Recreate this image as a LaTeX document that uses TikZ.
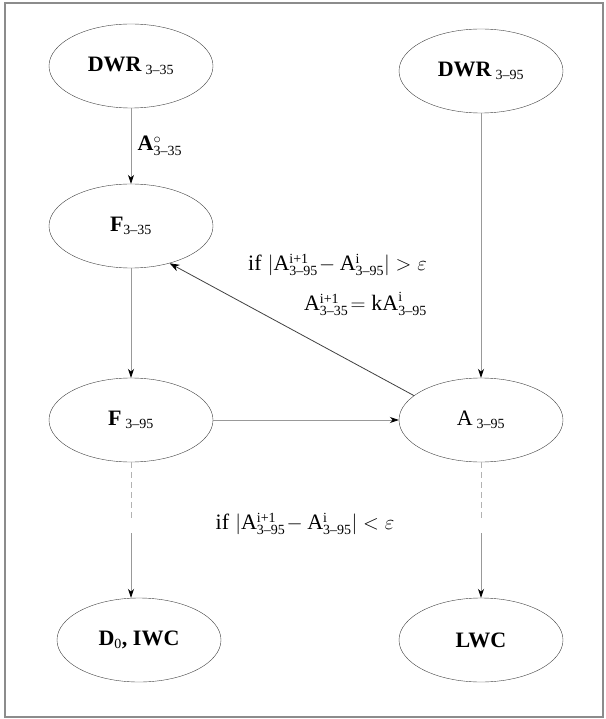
\documentclass[tikz,border=0pt]{standalone}
\usepackage{amsmath}
\usepackage{fontspec}
\setmainfont{Liberation Serif}
\DeclareMathSizes{22}{22}{14}{10}
\usepackage{tikz}
\usetikzlibrary{shapes.geometric, arrows.meta}
\usetikzlibrary{calc}
\tikzstyle{oval} = [ellipse, minimum width=164pt, minimum height=84pt, inner sep=0pt, text centered, draw=black!75, font=\fontsize{22}{26}\selectfont]
\tikzstyle{cond} = [font=\fontsize{22}{40}\selectfont, inner sep=0pt]
\tikzstyle{arrow} = [-{Stealth[black, length=9pt, width=6pt]}, draw=black!40, line width=0.8pt]
\tikzstyle{back} = [-{Stealth[black, length=10pt, width=7pt]}, draw=black!75, line width=0.8pt]
\tikzstyle{stopline} = [draw=black!30, line width=0.8pt, dash pattern=on 6pt off 4pt]

\begin{document}
\begin{tikzpicture}[node distance=160pt]
\useasboundingbox (-131pt,66pt) rectangle (474pt,-653pt);
\draw [black!45, line width=1.2pt] (-126pt,63pt) rectangle (472pt,-651pt);
%定义节点
\node (dwr35) [oval] at (0,0) {\textbf{DWR}$_{\;\text{3–35}}$};
\node (dwr95) [oval, right of=dwr35, xshift=190pt, yshift=-5pt] {\textbf{DWR}$_{\;\text{3–95}}$};
\node (f35) [oval, below of=dwr35] {\textbf{F}$_{\text{3–35}}$};
\node (f95) [oval, below of=f35, yshift=-34pt] {\textbf{F}$_{\;\text{3–95}}$};
\node (a95) [oval, right of=f95, xshift=190pt] {A$_{\;\text{3–95}}$};
\node (d0) [oval, below of=f95, yshift=-60pt, xshift=8pt] {\textbf{D}$_{\text{0}}$\textbf{, IWC}};
\node (lwc) [oval, below of=a95, yshift=-60pt] {\textbf{LWC}};
\node (iterup) [cond, align=right, anchor=east] at (296pt,-219pt) {if\;$|\mathrm{A}^{\text{i+1}}_{\text{3–95}}\!-\mathrm{A}^{\text{i}}_{\text{3–95}}|>\varepsilon$\\ $\mathrm{A}^{\text{i+1}}_{\text{3–35}}\!=\mathrm{kA}^{\text{i}}_{\text{3–95}}$};
\node (iterdown) [cond] at (174pt,-458pt) {if\;$|\mathrm{A}^{\text{i+1}}_{\text{3–95}}\!-\mathrm{A}^{\text{i}}_{\text{3–95}}|<\varepsilon$};
\coordinate (gapLtop) at ($(f95.south)+(0,-58pt)$);
\coordinate (gapLbot) at ($(f95.south)+(0,-71pt)$);
\coordinate (gapRtop) at ($(a95.south)+(0,-58pt)$);
\coordinate (gapRbot) at ($(a95.south)+(0,-71pt)$);

%连接节点
\draw [arrow](dwr35) -- node[right, xshift=3pt, font=\fontsize{22}{26}\selectfont] (azero) {$\mathbf{A}^{\circ}_{\text{3–35}}$} (f35);
\draw [arrow](dwr95) -- (a95);
\draw [arrow](f35) -- (f95);
\draw [arrow](f95) -- (a95);
\draw [back](a95.160) -- (f35.-44);
\draw [stopline](f95) -- (gapLtop);
\draw [arrow](gapLbot) -- (gapLbot |- d0.north);
\draw [stopline](a95) -- (gapRtop);
\draw [arrow](gapRbot) -- (lwc);
\end{tikzpicture}
\end{document}
